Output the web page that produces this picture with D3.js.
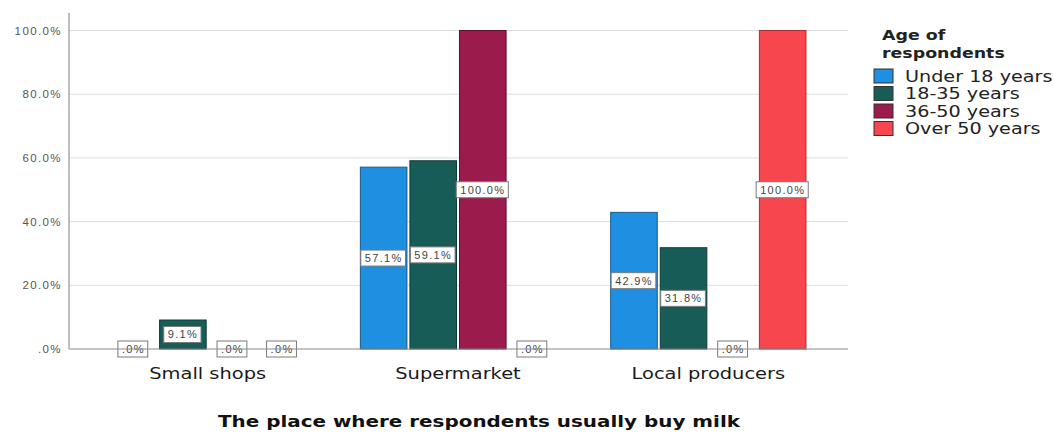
<!DOCTYPE html>
<html>
<head>
<meta charset="utf-8">
<script src="https://cdn.jsdelivr.net/npm/d3@7/dist/d3.min.js"></script>
<style>
  html, body { margin: 0; padding: 0; background: #fff; }
  svg { display: block; }
</style>
</head>
<body>
<svg id="chart" width="1054" height="433"></svg>
<script>
// Purchase place of milk by age group (column percentages)
const places = ["Small shops", "Supermarket", "Local producers"];
const ageGroups = ["Under 18 years", "18-35 years", "36-50 years", "Over 50 years"];
const under18 = [0, 57.1, 42.9];
const age18to35 = [9.1, 59.1, 31.8];
const age36to50 = [0, 100, 0];
const over50 = [0, 0, 100];
const yTicks = [0, 20, 40, 60, 80, 100];
const colors = ["#1f8fe2", "#185c58", "#9b1b4c", "#f8464f"];
const strokeColors = ["#1b5a8c", "#0f3a37", "#5e1030", "#a83038"];

const seriesValues = [under18, age18to35, age36to50, over50];

const svg = d3.select("#chart");
const sansWide = "DejaVu Sans, Verdana, sans-serif";
const stretch = 1.2; // wide horizontal proportions of the text

const x0 = d3.scaleBand().domain(places).range([82.5, 833.5]).paddingInner(0.2).paddingOuter(0.1);
const x1 = d3.scaleBand().domain(ageGroups).range([0, x0.bandwidth()]).padding(0.04);
const y = d3.scaleLinear().domain([0, 100]).range([349, 30.5]);

const plotLeft = 69, plotRight = 848, plotTop = 13;

// gridlines
svg.append("g")
  .selectAll("line")
  .data(yTicks.filter(d => d > 0))
  .join("line")
  .attr("x1", plotLeft).attr("x2", plotRight)
  .attr("y1", d => y(d)).attr("y2", d => y(d))
  .attr("stroke", "#dcdcdc").attr("stroke-width", 1);

// y axis
const yAxis = d3.axisLeft(y).tickValues(yTicks).tickSize(0).tickPadding(7)
  .tickFormat(d => d === 0 ? ".0%" : d.toFixed(1) + "%");
const gy = svg.append("g").attr("transform", `translate(${plotLeft},0)`).call(yAxis);
gy.select(".domain").remove();
gy.selectAll("text").attr("font-family", "Liberation Sans, Arial, sans-serif")
  .attr("font-size", 11.5).attr("letter-spacing", 1.4).attr("fill", "#555");
svg.append("line").attr("x1", plotLeft).attr("x2", plotLeft)
  .attr("y1", plotTop).attr("y2", y(0)).attr("stroke", "#a8a8a8").attr("stroke-width", 1.5);

// bars
const groups = svg.append("g").selectAll("g")
  .data(places)
  .join("g")
  .attr("transform", d => `translate(${x0(d)},0)`);

const cells = groups.selectAll("g")
  .data((p, i) => ageGroups.map((a, k) => ({ place: p, age: a, k, value: seriesValues[k][i] })))
  .join("g");

cells.filter(d => d.value > 0).append("rect")
  .attr("x", d => x1(d.age) + 0.5)
  .attr("width", x1.bandwidth() - 1)
  .attr("y", d => y(d.value))
  .attr("height", d => y(0) - y(d.value))
  .attr("fill", d => colors[d.k])
  .attr("stroke", d => strokeColors[d.k])
  .attr("stroke-width", 1);

// x axis baseline
svg.append("line").attr("x1", plotLeft).attr("x2", plotRight)
  .attr("y1", y(0)).attr("y2", y(0)).attr("stroke", "#8a8a8a").attr("stroke-width", 1);

// value labels
const fmt = v => v === 0 ? ".0%" : v.toFixed(1) + "%";
const labels = cells.append("g")
  .attr("transform", d => `translate(${x1(d.age) + x1.bandwidth() / 2},${(y(0) + y(d.value)) / 2})`);
labels.append("text")
  .attr("text-anchor", "middle")
  .attr("dy", "0.35em")
  .attr("font-family", "Liberation Sans, Arial, sans-serif")
  .attr("font-size", 11)
  .attr("letter-spacing", 1.3)
  .attr("fill", "#444")
  .text(d => fmt(d.value));
labels.each(function () {
  const g = d3.select(this);
  const bb = g.select("text").node().getBBox();
  g.insert("rect", "text")
    .attr("x", bb.x - 4).attr("y", -8)
    .attr("width", bb.width + 7).attr("height", 16)
    .attr("fill", "#fff").attr("stroke", "#7a7a7a").attr("stroke-width", 1);
});

// category labels
svg.append("g").selectAll("text")
  .data(places)
  .join("text")
  .attr("transform", d => `translate(${x0(d) + x0.bandwidth() / 2},379) scale(${stretch},1)`)
  .attr("text-anchor", "middle")
  .attr("font-family", sansWide)
  .attr("font-size", 16.2)
  .attr("fill", "#1a1a1a")
  .text(d => d);

// axis title
svg.append("text")
  .attr("transform", `translate(479,427) scale(${stretch},1)`)
  .attr("text-anchor", "middle")
  .attr("font-family", sansWide)
  .attr("font-weight", "bold")
  .attr("font-size", 16.6)
  .attr("fill", "#111")
  .text("The place where respondents usually buy milk");

// legend
const legend = svg.append("g");
[["Age of", 40], ["respondents", 58]].forEach(([t, ty]) => {
  legend.append("text").attr("transform", `translate(882,${ty}) scale(${stretch},1)`)
    .attr("font-family", sansWide).attr("font-weight", "bold")
    .attr("font-size", 14.5).attr("fill", "#222").text(t);
});
const items = legend.selectAll("g.item")
  .data(ageGroups)
  .join("g").attr("class", "item")
  .attr("transform", (d, i) => `translate(874,${69 + i * 17.5})`);
items.append("rect").attr("width", 19).attr("height", 14)
  .attr("fill", (d, i) => colors[i]).attr("stroke", "#333").attr("stroke-width", 1);
items.append("text").attr("transform", `translate(31,7) scale(${stretch},1)`).attr("dy", "0.35em")
  .attr("font-family", sansWide)
  .attr("font-size", 16)
  .attr("fill", "#222").text(d => d);
</script>
</body>
</html>
